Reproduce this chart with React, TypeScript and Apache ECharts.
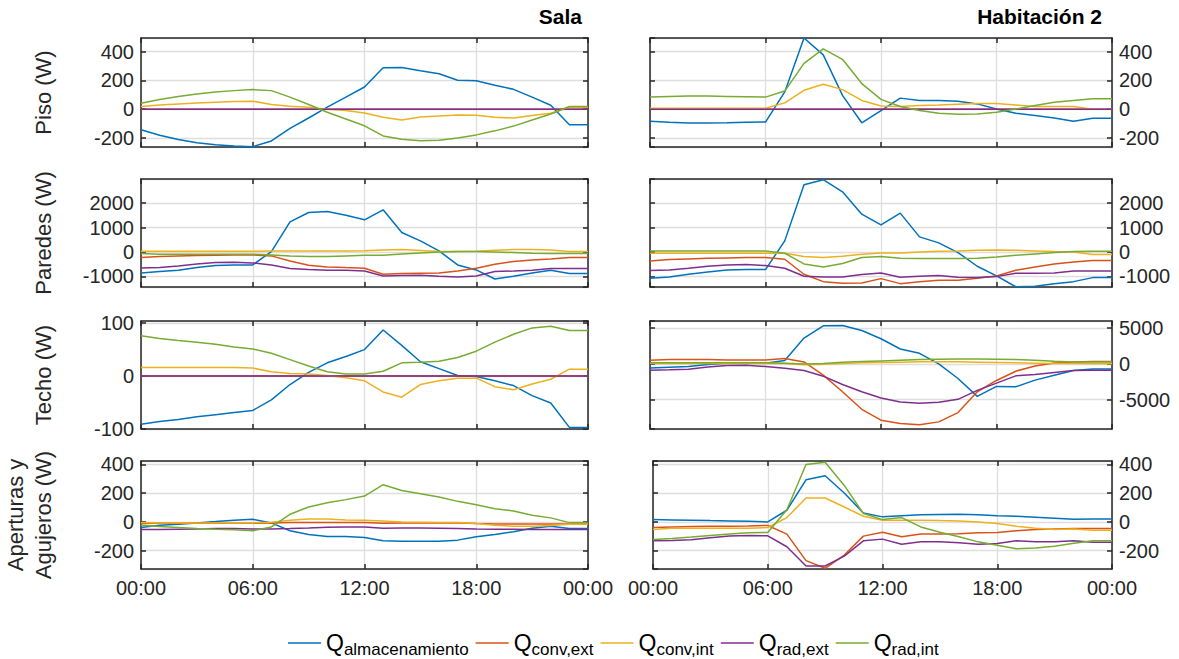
import { useEffect, useRef } from "react";
import * as echarts from "echarts";

// ---------------- data ----------------
const hours = [0, 1, 2, 3, 4, 5, 6, 7, 8, 9, 10, 11, 12, 13, 14, 15, 16, 17, 18, 19, 20, 21, 22, 23, 24];
const xTickLabels = ["00:00", "06:00", "12:00", "18:00", "00:00"];
const seriesNames = ["almacenamiento", "conv,ext", "conv,int", "rad,ext", "rad,int"];
const seriesColors = ["#0072BD", "#D95319", "#EDB120", "#7E2F8E", "#77AC30"];
const columnTitles = ["Sala", "Habitación 2"];
const rowLabels = ["Piso (W)", "Paredes (W)", "Techo (W)", "Aperturas y\nAgujeros (W)"];

// y ranges (rows: Piso, Paredes, Techo, Aperturas)
const yMinSala = [-262, -1440, -100, -328];
const yMaxSala = [494, 2990, 104, 424];
const yStepSala = [200, 1000, 100, 200];
const yMinHab = [-262, -1440, -9100, -328];
const yMaxHab = [494, 2990, 6000, 424];
const yStepHab = [200, 1000, 5000, 200];

// Piso - Sala
const pisoSalaAlm = [-143, -180, -210, -232, -246, -255, -260, -220, -133, -61, 14, 84, 154, 288, 290, 267, 246, 201, 197, 166, 138, 84, 28, -108, -108];
const pisoSalaConvExt = [0, 0, 0, 0, 0, 0, 0, 0, 0, 0, 0, 0, 0, 0, 0, 0, 0, 0, 0, 0, 0, 0, 0, 0, 0];
const pisoSalaConvInt = [19, 30, 37, 44, 49, 54, 56, 33, 21, 14, 0, -9, -26, -56, -75, -54, -47, -40, -42, -56, -61, -44, -28, 14, 14];
const pisoSalaRadExt = [0, 0, 0, 0, 0, 0, 0, 0, 0, 0, 0, 0, 0, 0, 0, 0, 0, 0, 0, 0, 0, 0, 0, 0, 0];
const pisoSalaRadInt = [42, 68, 89, 105, 119, 129, 136, 129, 84, 33, -21, -68, -115, -185, -208, -218, -215, -199, -178, -150, -117, -75, -33, 19, 19];

// Piso - Habitación 2
const pisoHabAlm = [-84, -91, -96, -96, -94, -91, -89, 120, 494, 377, 96, -94, -9, 77, 61, 61, 56, 37, 2, -28, -44, -61, -84, -63, -63];
const pisoHabConvExt = [0, 0, 0, 0, 0, 0, 0, 0, 0, 0, 0, 0, 0, 0, 0, 0, 0, 0, 0, 0, 0, 0, 0, 0, 0];
const pisoHabConvInt = [7, 7, 7, 7, 7, 7, 7, 44, 131, 173, 136, 61, 23, 19, 26, 30, 35, 40, 40, 30, 19, 19, 19, 0, 0];
const pisoHabRadExt = [0, 0, 0, 0, 0, 0, 0, 0, 0, 0, 0, 0, 0, 0, 0, 0, 0, 0, 0, 0, 0, 0, 0, 0, 0];
const pisoHabRadInt = [84, 89, 91, 91, 89, 87, 84, 126, 318, 419, 346, 178, 68, 19, -9, -28, -35, -33, -21, 2, 26, 49, 61, 73, 73];

// Paredes - Sala
const paredesSalaAlm = [-863, -808, -753, -644, -562, -534, -534, 14, 1233, 1617, 1658, 1507, 1315, 1726, 795, 452, 41, -534, -740, -1110, -1000, -863, -753, -890, -890];
const paredesSalaConvExt = [-233, -192, -164, -150, -137, -123, -123, -164, -370, -548, -616, -644, -671, -918, -890, -877, -863, -781, -671, -507, -397, -329, -288, -233, -233];
const paredesSalaConvInt = [30, 27, 27, 27, 27, 27, 27, 35, 41, 41, 41, 41, 45, 82, 100, 60, 20, 14, 27, 68, 96, 96, 82, 14, 14];
const paredesSalaRadExt = [-658, -644, -575, -493, -438, -425, -452, -534, -685, -726, -753, -753, -781, -986, -973, -959, -1000, -1027, -986, -808, -781, -753, -685, -685, -685];
const paredesSalaRadInt = [-68, -96, -96, -96, -96, -96, -96, -123, -164, -192, -192, -164, -137, -137, -82, -41, 0, 14, 14, 0, -27, -55, -68, -68, -68];

// Paredes - Habitación 2
const paredesHabAlm = [-1082, -1027, -918, -822, -740, -726, -726, 452, 2754, 2960, 2466, 1548, 1110, 1590, 616, 370, -27, -589, -986, -1430, -1411, -1302, -1220, -1055, -1055];
const paredesHabConvExt = [-370, -315, -288, -260, -247, -233, -233, -301, -918, -1220, -1288, -1274, -1096, -1302, -1220, -1165, -1165, -1082, -986, -753, -616, -493, -411, -356, -356];
const paredesHabConvInt = [-55, -55, -55, -55, -55, -55, -55, -55, -192, -233, -178, -96, -41, -41, 0, 27, 41, 68, 82, 68, 41, 14, 0, -110, -110];
const paredesHabRadExt = [-767, -740, -671, -589, -534, -521, -562, -671, -1000, -1027, -1027, -932, -863, -1041, -1000, -973, -1041, -1055, -1014, -877, -877, -863, -781, -781, -781];
const paredesHabRadInt = [41, 41, 41, 41, 41, 41, 41, -55, -493, -616, -479, -233, -192, -260, -274, -274, -274, -260, -205, -137, -82, -27, 14, 27, 27];

// Techo - Sala
const techoSalaAlm = [-91, -86, -82, -77, -73, -69, -65, -45, -16, 7, 25, 37, 50, 87, 58, 27, 14, 1, -1, -9, -18, -37, -51, -97, -97];
const techoSalaConvExt = [0, 0, 0, 0, 0, 0, 0, 0, 0, 0, 0, 0, 0, 0, 0, 0, 0, 0, 0, 0, 0, 0, 0, 0, 0];
const techoSalaConvInt = [16, 16, 16, 16, 16, 16, 15, 8, 5, 4, 1, -3, -9, -30, -40, -16, -9, -4, -4, -20, -26, -15, -6, 13, 13];
const techoSalaRadExt = [0, 0, 0, 0, 0, 0, 0, 0, 0, 0, 0, 0, 0, 0, 0, 0, 0, 0, 0, 0, 0, 0, 0, 0, 0];
const techoSalaRadInt = [76, 71, 67, 64, 60, 55, 51, 43, 31, 19, 8, 4, 4, 9, 25, 26, 28, 35, 47, 64, 79, 91, 94, 86, 86];

// Techo - Habitación 2
const techoHabAlm = [-556, -463, -370, -93, 93, 93, 93, 463, 3611, 5325, 5371, 4676, 3519, 2084, 1482, 0, -2037, -4537, -3148, -3195, -2269, -1574, -926, -695, -695];
const techoHabConvExt = [509, 602, 602, 602, 556, 556, 556, 741, 278, -1574, -3889, -6343, -7871, -8334, -8519, -8103, -6806, -3889, -2315, -1019, -278, 139, 278, 324, 324];
const techoHabConvInt = [50, 50, 50, 50, 50, 50, 50, 50, -100, -50, 50, 150, 200, 250, 300, 300, 300, 250, 200, 150, 100, 50, 50, 30, 30];
const techoHabRadExt = [-880, -833, -741, -417, -232, -185, -370, -602, -926, -1713, -2871, -3889, -4769, -5325, -5510, -5371, -4954, -3704, -2685, -1667, -1482, -1204, -926, -880, -880];
const techoHabRadInt = [150, 150, 150, 150, 150, 150, 150, 100, 0, 50, 231, 324, 417, 509, 602, 648, 694, 694, 648, 602, 509, 370, 278, 278, 278];

// Aperturas y Agujeros - Sala
const apertSalaAlm = [-39, -23, -16, -7, 2, 12, 18, -7, -62, -88, -102, -102, -109, -132, -134, -134, -134, -127, -104, -88, -69, -44, -30, -46, -46];
const apertSalaConvExt = [-12, -9, -9, -9, -9, -9, -9, -7, -5, -5, -5, -5, -5, -9, -7, -7, -7, -7, -12, -14, -14, -14, -14, -14, -14];
const apertSalaConvInt = [-5, -7, -7, -7, -7, -7, -7, -2, 12, 21, 21, 14, 12, 7, 0, -2, -5, -5, -12, -23, -30, -30, -25, -16, -16];
const apertSalaRadExt = [-53, -53, -51, -49, -46, -46, -49, -49, -46, -42, -37, -35, -35, -44, -42, -42, -44, -46, -49, -51, -51, -53, -53, -53, -53];
const apertSalaRadInt = [-23, -32, -39, -46, -51, -55, -62, -35, 53, 104, 134, 155, 180, 259, 219, 196, 173, 143, 120, 92, 76, 46, 28, -5, -5];

// Aperturas y Agujeros - Habitación 2
const apertHabAlm = [16, 14, 12, 9, 7, 5, 0, 81, 293, 321, 201, 62, 35, 42, 49, 51, 53, 49, 42, 39, 32, 25, 18, 21, 21];
const apertHabConvExt = [-39, -35, -32, -30, -30, -28, -25, -85, -270, -323, -231, -99, -72, -104, -85, -85, -83, -76, -74, -62, -53, -49, -46, -46, -46];
const apertHabConvInt = [-53, -44, -44, -44, -44, -44, -39, 30, 166, 166, 104, 39, 12, 12, 12, 9, 7, 0, -12, -30, -44, -53, -49, -58, -58];
const apertHabRadExt = [-132, -129, -125, -111, -99, -95, -97, -173, -307, -307, -238, -132, -120, -155, -139, -139, -146, -155, -150, -132, -139, -139, -132, -141, -141];
const apertHabRadInt = [-122, -116, -106, -95, -85, -76, -74, 85, 400, 416, 254, 58, 16, 30, -35, -72, -104, -139, -162, -187, -182, -169, -148, -132, -132];

// ---------------- layout / style ----------------
const FONT = '"Liberation Sans", Arial, Helvetica, sans-serif';
const AXIS_COLOR = "#262626";
const GRID_COLOR = "#dedede";

const panelSeries = [
  [
    [pisoSalaAlm, pisoSalaConvExt, pisoSalaConvInt, pisoSalaRadExt, pisoSalaRadInt],
    [pisoHabAlm, pisoHabConvExt, pisoHabConvInt, pisoHabRadExt, pisoHabRadInt],
  ],
  [
    [paredesSalaAlm, paredesSalaConvExt, paredesSalaConvInt, paredesSalaRadExt, paredesSalaRadInt],
    [paredesHabAlm, paredesHabConvExt, paredesHabConvInt, paredesHabRadExt, paredesHabRadInt],
  ],
  [
    [techoSalaAlm, techoSalaConvExt, techoSalaConvInt, techoSalaRadExt, techoSalaRadInt],
    [techoHabAlm, techoHabConvExt, techoHabConvInt, techoHabRadExt, techoHabRadInt],
  ],
  [
    [apertSalaAlm, apertSalaConvExt, apertSalaConvInt, apertSalaRadExt, apertSalaRadInt],
    [apertHabAlm, apertHabConvExt, apertHabConvInt, apertHabRadExt, apertHabRadInt],
  ],
];

const rowTop = [38, 179, 321, 461];
const rowHeight = [109, 108, 108, 108];

function gridRect(row: number, col: number) {
  if (col === 0) return { left: 141, width: 447 };
  if (row === 3) return { left: 653, width: 459 };
  return { left: 650, width: 462 };
}

function buildOption() {
  const grid: any[] = [];
  const xAxis: any[] = [];
  const yAxis: any[] = [];
  const series: any[] = [];

  for (let row = 0; row < 4; row++) {
    for (let col = 0; col < 2; col++) {
      const i = grid.length;
      const r = gridRect(row, col);
      grid.push({
        left: r.left,
        top: rowTop[row],
        width: r.width,
        height: rowHeight[row],
        show: false,
        outerBoundsMode: "none",
      });
      const tickStyle = { color: AXIS_COLOR, width: 1.5 };
      const lineStyle = { color: AXIS_COLOR, width: 1.5 };
      xAxis.push({
        gridIndex: i,
        type: "value",
        min: 0,
        max: 24,
        interval: 6,
        position: "bottom",
        axisLine: { show: true, onZero: false, lineStyle },
        axisTick: { show: true, inside: true, length: 5, lineStyle: tickStyle },
        axisLabel: {
          show: row === 3,
          margin: 9,
          fontSize: 20,
          fontFamily: FONT,
          color: AXIS_COLOR,
          formatter: (v: number) => xTickLabels[Math.round(v / 6)],
        },
        splitLine: { show: true, lineStyle: { color: GRID_COLOR, width: 1.3 } },
      });
      xAxis.push({
        gridIndex: i,
        type: "value",
        min: 0,
        max: 24,
        interval: 6,
        position: "top",
        axisLine: { show: true, onZero: false, lineStyle },
        axisTick: { show: true, inside: true, length: 5, lineStyle: tickStyle },
        axisLabel: { show: false },
        splitLine: { show: false },
      });
      const yMin = col === 0 ? yMinSala[row] : yMinHab[row];
      const yMax = col === 0 ? yMaxSala[row] : yMaxHab[row];
      const step = col === 0 ? yStepSala[row] : yStepHab[row];
      const main = col === 0 ? "left" : "right";
      const other = col === 0 ? "right" : "left";
      yAxis.push({
        gridIndex: i,
        type: "value",
        min: yMin,
        max: yMax,
        minInterval: step,
        maxInterval: step,
        position: main,
        axisLine: { show: true, onZero: false, lineStyle },
        axisTick: { show: true, inside: true, length: 5, lineStyle: tickStyle },
        axisLabel: {
          show: true,
          margin: 7,
          fontSize: 20,
          fontFamily: FONT,
          color: AXIS_COLOR,
          showMinLabel: yMin % step === 0,
          showMaxLabel: yMax % step === 0,
          formatter: (v: number) => String(Math.round(v)),
        },
        splitLine: { show: true, lineStyle: { color: GRID_COLOR, width: 1.3 } },
        name: col === 0 ? rowLabels[row] : "",
        nameLocation: "middle",
        nameRotate: 90,
        nameGap: 84,
        nameTextStyle: { fontSize: 22, fontFamily: FONT, color: AXIS_COLOR, lineHeight: 28 },
      });
      yAxis.push({
        gridIndex: i,
        type: "value",
        min: yMin,
        max: yMax,
        minInterval: step,
        maxInterval: step,
        position: other,
        axisLine: { show: true, onZero: false, lineStyle },
        axisTick: { show: true, inside: true, length: 5, lineStyle: tickStyle },
        axisLabel: { show: false },
        splitLine: { show: false },
      });

      const data = panelSeries[row][col];
      data.forEach((vals, k) => {
        series.push({
          type: "line",
          name: seriesNames[k],
          xAxisIndex: 2 * i,
          yAxisIndex: 2 * i,
          data: hours.map((h, j) => [h, vals[j]]),
          showSymbol: false,
          symbol: "none",
          silent: true,
          clip: true,
          z: 2 + k,
          lineStyle: { width: 1.5, color: seriesColors[k] },
          itemStyle: { color: seriesColors[k] },
          emphasis: { disabled: true },
        });
      });
    }
  }

  return {
    animation: false,
    backgroundColor: "#ffffff",
    title: [
      {
        text: columnTitles[0],
        right: 1179 - 587,
        top: 1,
        textStyle: { fontSize: 21, fontWeight: "bold", fontFamily: FONT, color: "#000" },
      },
      {
        text: columnTitles[1],
        right: 1179 - 1107,
        top: 1,
        textStyle: { fontSize: 21, fontWeight: "bold", fontFamily: FONT, color: "#000" },
      },
    ],
    legend: {
      data: seriesNames,
      left: 283,
      top: 620,
      icon: "rect",
      itemWidth: 33,
      itemHeight: 1.5,
      itemGap: 7,
      selectedMode: false,
      formatter: (name: string) => `{q|Q}{s|${name}}`,
      textStyle: {
        color: "#000",
        fontFamily: FONT,
        lineHeight: 36,
        rich: {
          q: { fontSize: 23, fontFamily: FONT, color: "#000", lineHeight: 36 },
          s: { fontSize: 17, fontFamily: FONT, color: "#000", lineHeight: 18, padding: [13, 0, 0, 0] },
        },
      },
    },
    grid,
    xAxis,
    yAxis,
    series,
  };
}

export default function App() {
  const ref = useRef<HTMLDivElement>(null);
  useEffect(() => {
    document.body.style.margin = "0";
    if (!ref.current) return;
    const chart = echarts.init(ref.current, undefined, { renderer: "svg" });
    chart.setOption(buildOption() as any);
    return () => chart.dispose();
  }, []);
  return (
    <div
      ref={ref}
      style={{ position: "absolute", left: 0, top: 0, width: 1179, height: 659, background: "#fff" }}
    />
  );
}
